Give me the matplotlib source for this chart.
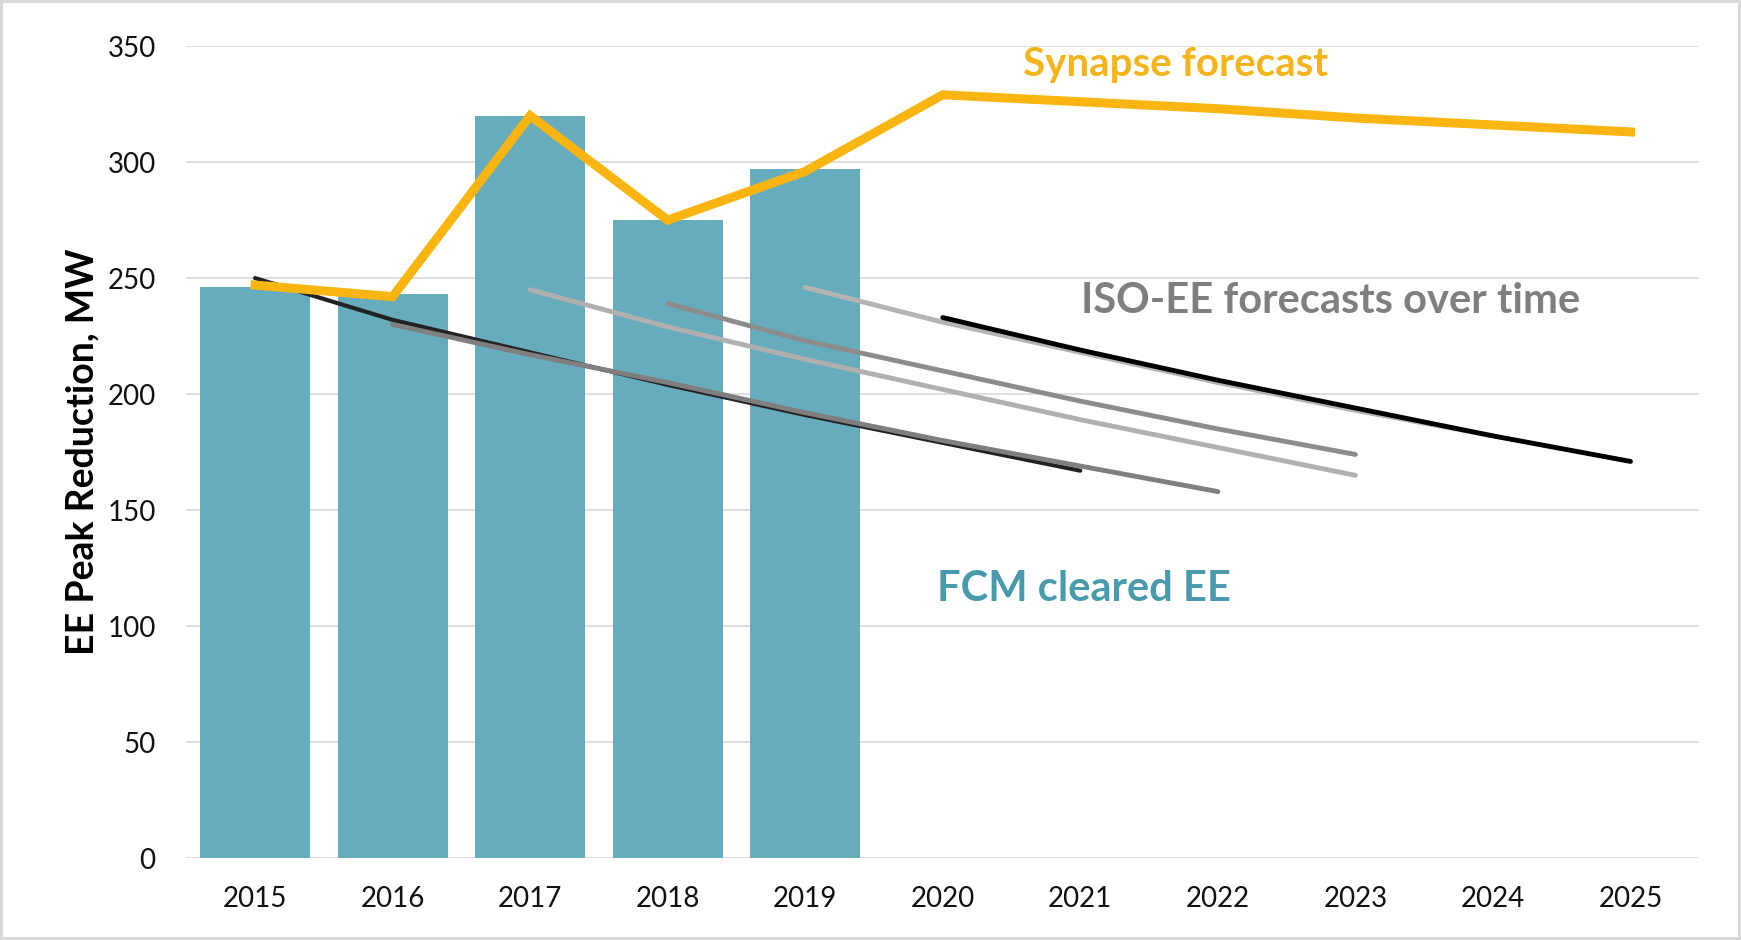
import numpy as np
import matplotlib.pyplot as plt

years = ['2015', '2016', '2017', '2018', '2019', '2020', '2021', '2022', '2023', '2024', '2025']

# FCM cleared EE (bars), 2015-2019
fcm_cleared = [246, 243, 320, 275, 297]

# Synapse forecast 2015-2025
synapse = [247, 242, 320, 275, 296, 329, 326, 323, 319, 316, 313]

# ISO-EE forecasts, each starting at a different year
iso_2015 = [250, 232, 218, 204, 191, 179, 167]
iso_2016 = [230, 217, 205, 192, 180, 169, 158]
iso_2017 = [245, 229, 215, 202, 189, 177, 165]
iso_2018 = [239, 223, 210, 197, 185, 174]
iso_2019 = [246, 231, 218, 205, 193, 182]
iso_2020 = [233, 219, 206, 194, 182, 171]

plt.rcParams['font.family'] = ['Lato', 'DejaVu Sans']

fig = plt.figure(figsize=(17.41, 9.4), dpi=100)
fig.patch.set_edgecolor('#d9d9d9')
fig.patch.set_linewidth(3)
ax = fig.add_axes([0.107, 0.087, 0.869, 0.864])

x = np.arange(len(years))
ax.bar(x[:len(fcm_cleared)], fcm_cleared, width=0.8, color='#67acbd', zorder=2)

iso_lines = [
    (0, iso_2015, '#222222', 3.0),
    (1, iso_2016, '#7f7f7f', 3.5),
    (2, iso_2017, '#b0b0b0', 3.5),
    (3, iso_2018, '#8c8c8c', 3.5),
    (4, iso_2019, '#b4b4b4', 3.5),
    (5, iso_2020, '#000000', 3.5),
]
for start, vals, col, lw in iso_lines:
    ax.plot(x[start:start + len(vals)], vals, color=col, lw=lw, zorder=3,
            solid_capstyle='round')

ax.plot(x, synapse, color='#fbb511', lw=6.5, zorder=4, solid_joinstyle='miter')

ax.set_xlim(-0.5, 10.5)
ax.set_ylim(0, 350)
ax.set_yticks(np.arange(0, 351, 50))
ax.set_xticks(x)
ax.set_xticklabels(years)
ax.tick_params(axis='both', length=0, labelsize=20, colors='#111111')
ax.tick_params(axis='x', pad=20)
ax.tick_params(axis='y', pad=22)
ax.grid(axis='y', color='#d9d9d9', lw=1.2, zorder=0)
ax.set_axisbelow(True)
for s in ax.spines.values():
    s.set_visible(False)

ax.set_ylabel('EE Peak Reduction, MW', fontsize=27, fontweight='bold', labelpad=6)

ax.text(6.69, 342, 'Synapse forecast', color='#f6b41b', fontsize=29,
        fontweight='bold', ha='center', va='center')
ax.text(7.82, 240, 'ISO-EE forecasts over time', color='#7f7f7f', fontsize=30,
        fontweight='bold', ha='center', va='center')
ax.text(6.03, 116, 'FCM cleared EE', color='#4a9aae', fontsize=30,
        fontweight='bold', ha='center', va='center')

fig.savefig('out.png', dpi=100, edgecolor=fig.get_edgecolor())
